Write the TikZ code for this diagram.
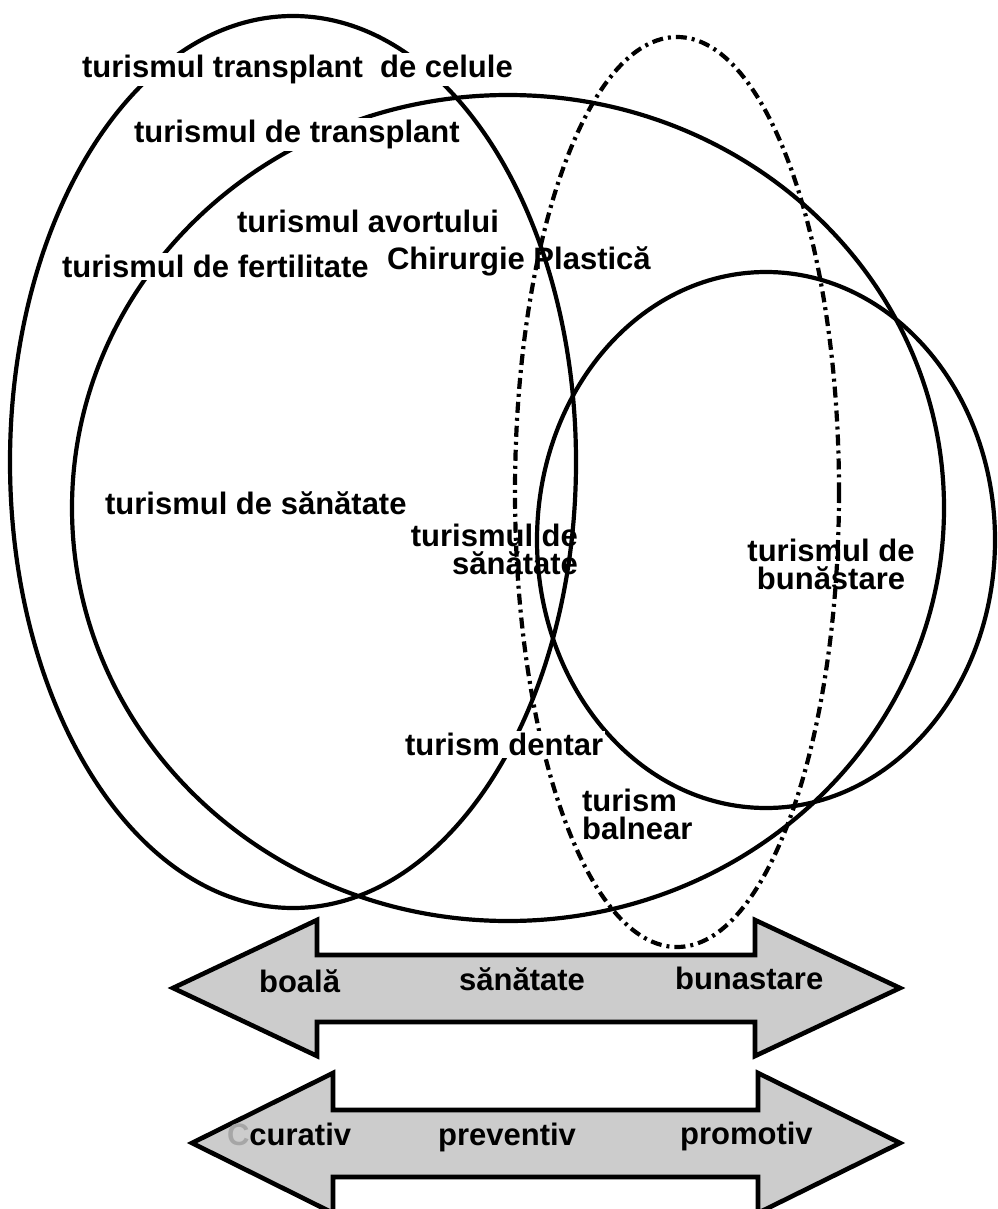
\documentclass[tikz,border=0pt]{standalone}
\usepackage{fontspec}
\setmainfont{Liberation Sans}

\begin{document}
\begin{tikzpicture}[x=1pt,y=-1pt,line width=4.2pt,
    lbl/.style={font=\bfseries\fontsize{31}{28}\selectfont,inner sep=0pt},
    boxlbl/.style={lbl,fill=white,inner sep=2pt},
    dashdot/.style={dash pattern=on 11pt off 5pt on 3pt off 5pt},
    band/.style={draw,fill=gray!40,line width=4.6pt,line join=miter}]
    \useasboundingbox (0,0) rectangle (997,1209);

    % draw the four ellipses
    \draw (293,462) ellipse [x radius=283, y radius=446];
    \draw (508,508) ellipse [x radius=436, y radius=413];
    \draw[dashdot] (677,492) ellipse [x radius=162, y radius=455];
    \draw (766,540) ellipse [x radius=229, y radius=268];

    % labels inside the ellipses
    \node[boxlbl,anchor=mid west] (celule) at (78,75) {turismul transplant\ \ de celule};
    \node[boxlbl,anchor=mid west] (transplant) at (130,140) {turismul de transplant};
    \node[lbl,anchor=mid west] (avort) at (235,230) {turismul avortului};
    \node[boxlbl,anchor=mid west] (fertil) at (58,275) {turismul de fertilitate};
    \node[lbl,anchor=mid west] (chirurgie) at (385,267) {Chirurgie Plastică};
    \node[lbl,anchor=mid west] (sanatateA) at (103,512) {turismul de sănătate};
    \node[lbl,align=right,anchor=east] (sanatateB) at (580,549) {turismul de\\sănătate};
    \node[lbl,align=center] (bunastareT) at (831,564) {turismul de\\bunăstare};
    \node[boxlbl,anchor=mid west] (dentar) at (401,753) {turism dentar};
    \node[lbl,align=left,anchor=west] (balnear) at (580,814) {turism\\balnear};

    % draw the two double arrows
    \draw[band] (173,988) -- (317,920) -- (317,955) -- (755,955) -- (755,920) -- (900,988)
      -- (755,1056) -- (755,1022) -- (317,1022) -- (317,1056) -- cycle;
    \draw[band] (192,1143) -- (333,1073) -- (333,1110) -- (758,1110) -- (758,1073) -- (900,1143)
      -- (758,1213) -- (758,1177) -- (333,1177) -- (333,1213) -- cycle;

    % labels on the arrows
    \node[lbl,anchor=mid west] (boala) at (257,990) {boală};
    \node[lbl,anchor=mid west] (sanatate) at (457,988) {sănătate};
    \node[lbl,anchor=mid west] (bunastare) at (673,987) {bunastare};
    \node[lbl,anchor=mid west] (curativ) at (225,1143) {{\color{gray!70}C}curativ};
    \node[lbl,anchor=mid west] (preventiv) at (436,1143) {preventiv};
    \node[lbl,anchor=mid west] (promotiv) at (678,1142) {promotiv};
\end{tikzpicture}
\end{document}
